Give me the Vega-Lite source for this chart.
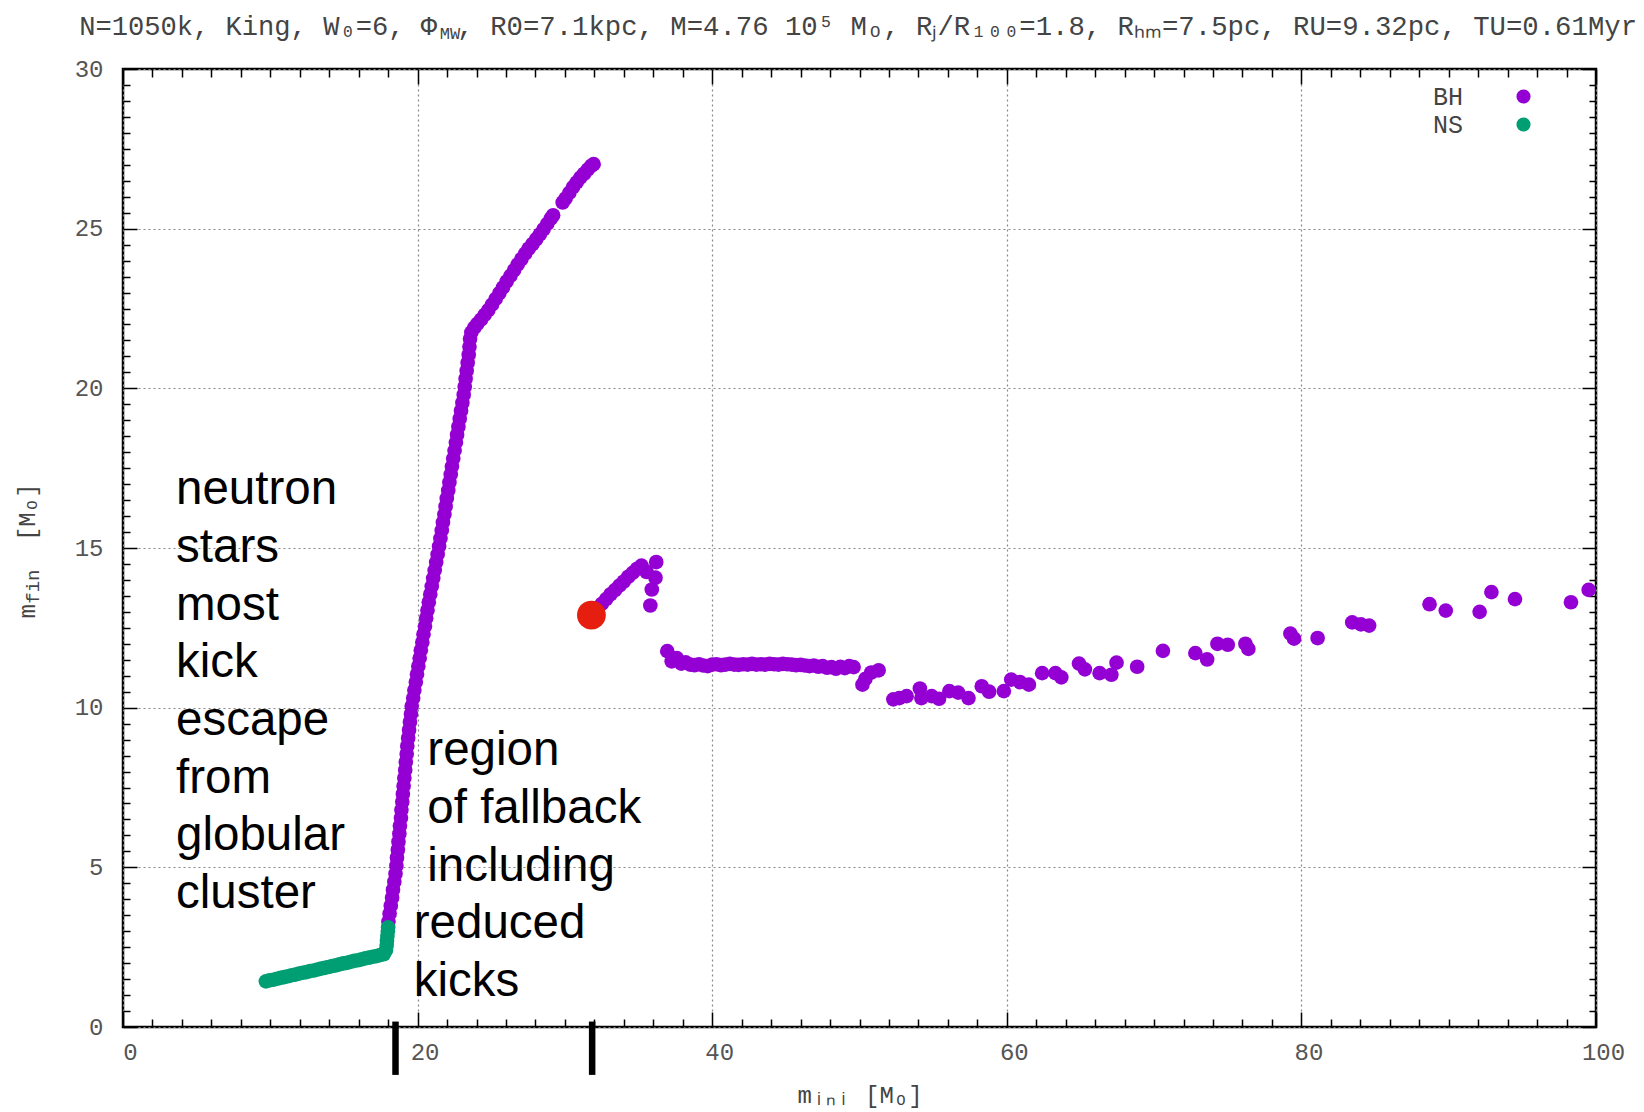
{
  "$schema": "https://vega.github.io/schema/vega-lite/v6.json",
  "width": 1473,
  "height": 958,
  "autosize": {"type": "none"},
  "padding": {"left": 123, "top": 69, "right": 48, "bottom": 85},
  "background": "white",
  "config": {
    "view": {"stroke": "#000", "strokeWidth": 2.5},
    "axis": {
      "labelFont": "Liberation Mono",
      "labelFontSize": 24,
      "labelColor": "#555",
      "titleFont": "Liberation Mono",
      "titleFontSize": 24,
      "titleFontWeight": "normal",
      "titleColor": "#444",
      "gridColor": "#888",
      "gridDash": [2, 3],
      "gridWidth": 1.2,
      "labelFlush": false,
      "labelOverlap": false,
      "domain": false,
      "tickColor": "#000",
      "tickWidth": 1.5
    }
  },
  "datasets": {
    "stars": [
      {"m_ini": 18.02, "m_fin": 3.3, "type": "BH"}, {"m_ini": 18.1, "m_fin": 3.55, "type": "BH"}, {"m_ini": 18.18, "m_fin": 3.8, "type": "BH"}, {"m_ini": 18.27, "m_fin": 4.05, "type": "BH"},
      {"m_ini": 18.33, "m_fin": 4.3, "type": "BH"}, {"m_ini": 18.42, "m_fin": 4.55, "type": "BH"}, {"m_ini": 18.5, "m_fin": 4.8, "type": "BH"}, {"m_ini": 18.56, "m_fin": 5.05, "type": "BH"},
      {"m_ini": 18.6, "m_fin": 5.3, "type": "BH"}, {"m_ini": 18.66, "m_fin": 5.55, "type": "BH"}, {"m_ini": 18.7, "m_fin": 5.8, "type": "BH"}, {"m_ini": 18.76, "m_fin": 6.05, "type": "BH"},
      {"m_ini": 18.8, "m_fin": 6.3, "type": "BH"}, {"m_ini": 18.87, "m_fin": 6.55, "type": "BH"}, {"m_ini": 18.9, "m_fin": 6.8, "type": "BH"}, {"m_ini": 18.96, "m_fin": 7.05, "type": "BH"},
      {"m_ini": 19.0, "m_fin": 7.3, "type": "BH"}, {"m_ini": 19.05, "m_fin": 7.55, "type": "BH"}, {"m_ini": 19.1, "m_fin": 7.8, "type": "BH"}, {"m_ini": 19.16, "m_fin": 8.05, "type": "BH"},
      {"m_ini": 19.2, "m_fin": 8.3, "type": "BH"}, {"m_ini": 19.26, "m_fin": 8.55, "type": "BH"}, {"m_ini": 19.3, "m_fin": 8.8, "type": "BH"}, {"m_ini": 19.36, "m_fin": 9.05, "type": "BH"},
      {"m_ini": 19.42, "m_fin": 9.3, "type": "BH"}, {"m_ini": 19.48, "m_fin": 9.55, "type": "BH"}, {"m_ini": 19.55, "m_fin": 9.8, "type": "BH"}, {"m_ini": 19.6, "m_fin": 10.05, "type": "BH"},
      {"m_ini": 19.7, "m_fin": 10.3, "type": "BH"}, {"m_ini": 19.78, "m_fin": 10.55, "type": "BH"}, {"m_ini": 19.88, "m_fin": 10.8, "type": "BH"}, {"m_ini": 19.96, "m_fin": 11.05, "type": "BH"},
      {"m_ini": 20.05, "m_fin": 11.3, "type": "BH"}, {"m_ini": 20.14, "m_fin": 11.55, "type": "BH"}, {"m_ini": 20.22, "m_fin": 11.8, "type": "BH"}, {"m_ini": 20.32, "m_fin": 12.05, "type": "BH"},
      {"m_ini": 20.4, "m_fin": 12.3, "type": "BH"}, {"m_ini": 20.5, "m_fin": 12.55, "type": "BH"}, {"m_ini": 20.58, "m_fin": 12.8, "type": "BH"}, {"m_ini": 20.67, "m_fin": 13.05, "type": "BH"},
      {"m_ini": 20.76, "m_fin": 13.3, "type": "BH"}, {"m_ini": 20.86, "m_fin": 13.55, "type": "BH"}, {"m_ini": 20.96, "m_fin": 13.8, "type": "BH"}, {"m_ini": 21.06, "m_fin": 14.05, "type": "BH"},
      {"m_ini": 21.16, "m_fin": 14.3, "type": "BH"}, {"m_ini": 21.26, "m_fin": 14.55, "type": "BH"}, {"m_ini": 21.36, "m_fin": 14.8, "type": "BH"}, {"m_ini": 21.46, "m_fin": 15.05, "type": "BH"},
      {"m_ini": 21.55, "m_fin": 15.3, "type": "BH"}, {"m_ini": 21.64, "m_fin": 15.55, "type": "BH"}, {"m_ini": 21.72, "m_fin": 15.8, "type": "BH"}, {"m_ini": 21.82, "m_fin": 16.05, "type": "BH"},
      {"m_ini": 21.9, "m_fin": 16.3, "type": "BH"}, {"m_ini": 21.98, "m_fin": 16.55, "type": "BH"}, {"m_ini": 22.08, "m_fin": 16.8, "type": "BH"}, {"m_ini": 22.16, "m_fin": 17.05, "type": "BH"},
      {"m_ini": 22.25, "m_fin": 17.3, "type": "BH"}, {"m_ini": 22.33, "m_fin": 17.55, "type": "BH"}, {"m_ini": 22.42, "m_fin": 17.8, "type": "BH"}, {"m_ini": 22.51, "m_fin": 18.05, "type": "BH"},
      {"m_ini": 22.6, "m_fin": 18.3, "type": "BH"}, {"m_ini": 22.68, "m_fin": 18.55, "type": "BH"}, {"m_ini": 22.77, "m_fin": 18.8, "type": "BH"}, {"m_ini": 22.86, "m_fin": 19.05, "type": "BH"},
      {"m_ini": 22.95, "m_fin": 19.3, "type": "BH"}, {"m_ini": 23.04, "m_fin": 19.55, "type": "BH"}, {"m_ini": 23.13, "m_fin": 19.8, "type": "BH"}, {"m_ini": 23.2, "m_fin": 20.05, "type": "BH"},
      {"m_ini": 23.26, "m_fin": 20.3, "type": "BH"}, {"m_ini": 23.33, "m_fin": 20.55, "type": "BH"}, {"m_ini": 23.4, "m_fin": 20.8, "type": "BH"}, {"m_ini": 23.47, "m_fin": 21.05, "type": "BH"},
      {"m_ini": 23.52, "m_fin": 21.3, "type": "BH"}, {"m_ini": 23.56, "m_fin": 21.55, "type": "BH"},
      {"m_ini": 23.65, "m_fin": 21.75, "type": "BH"}, {"m_ini": 23.85, "m_fin": 21.9, "type": "BH"}, {"m_ini": 24.05, "m_fin": 22.02, "type": "BH"}, {"m_ini": 24.3, "m_fin": 22.15, "type": "BH"},
      {"m_ini": 24.55, "m_fin": 22.3, "type": "BH"}, {"m_ini": 24.8, "m_fin": 22.45, "type": "BH"}, {"m_ini": 25.05, "m_fin": 22.62, "type": "BH"}, {"m_ini": 25.3, "m_fin": 22.8, "type": "BH"},
      {"m_ini": 25.55, "m_fin": 22.98, "type": "BH"}, {"m_ini": 25.8, "m_fin": 23.16, "type": "BH"}, {"m_ini": 26.05, "m_fin": 23.35, "type": "BH"}, {"m_ini": 26.3, "m_fin": 23.52, "type": "BH"},
      {"m_ini": 26.55, "m_fin": 23.7, "type": "BH"}, {"m_ini": 26.8, "m_fin": 23.88, "type": "BH"}, {"m_ini": 27.05, "m_fin": 24.05, "type": "BH"}, {"m_ini": 27.3, "m_fin": 24.22, "type": "BH"},
      {"m_ini": 27.55, "m_fin": 24.38, "type": "BH"}, {"m_ini": 27.8, "m_fin": 24.52, "type": "BH"}, {"m_ini": 28.05, "m_fin": 24.67, "type": "BH"}, {"m_ini": 28.3, "m_fin": 24.82, "type": "BH"},
      {"m_ini": 28.55, "m_fin": 24.98, "type": "BH"}, {"m_ini": 28.8, "m_fin": 25.15, "type": "BH"}, {"m_ini": 29.05, "m_fin": 25.32, "type": "BH"}, {"m_ini": 29.2, "m_fin": 25.42, "type": "BH"},
      {"m_ini": 29.85, "m_fin": 25.82, "type": "BH"}, {"m_ini": 30.05, "m_fin": 25.95, "type": "BH"}, {"m_ini": 30.3, "m_fin": 26.12, "type": "BH"}, {"m_ini": 30.55, "m_fin": 26.3, "type": "BH"},
      {"m_ini": 30.8, "m_fin": 26.45, "type": "BH"}, {"m_ini": 31.05, "m_fin": 26.6, "type": "BH"}, {"m_ini": 31.3, "m_fin": 26.72, "type": "BH"}, {"m_ini": 31.55, "m_fin": 26.85, "type": "BH"},
      {"m_ini": 31.8, "m_fin": 26.97, "type": "BH"}, {"m_ini": 31.95, "m_fin": 27.02, "type": "BH"},
      {"m_ini": 32.2, "m_fin": 13.1, "type": "BH"}, {"m_ini": 32.5, "m_fin": 13.25, "type": "BH"}, {"m_ini": 32.8, "m_fin": 13.4, "type": "BH"}, {"m_ini": 33.1, "m_fin": 13.55, "type": "BH"},
      {"m_ini": 33.4, "m_fin": 13.68, "type": "BH"}, {"m_ini": 33.7, "m_fin": 13.82, "type": "BH"}, {"m_ini": 34.0, "m_fin": 13.95, "type": "BH"}, {"m_ini": 34.3, "m_fin": 14.1, "type": "BH"},
      {"m_ini": 34.6, "m_fin": 14.22, "type": "BH"}, {"m_ini": 34.9, "m_fin": 14.35, "type": "BH"}, {"m_ini": 35.2, "m_fin": 14.45, "type": "BH"}, {"m_ini": 35.55, "m_fin": 14.25, "type": "BH"},
      {"m_ini": 35.9, "m_fin": 13.7, "type": "BH"}, {"m_ini": 35.8, "m_fin": 13.2, "type": "BH"}, {"m_ini": 36.15, "m_fin": 14.07, "type": "BH"}, {"m_ini": 36.2, "m_fin": 14.56, "type": "BH"},
      {"m_ini": 36.95, "m_fin": 11.77, "type": "BH"}, {"m_ini": 37.25, "m_fin": 11.45, "type": "BH"}, {"m_ini": 37.6, "m_fin": 11.55, "type": "BH"}, {"m_ini": 37.9, "m_fin": 11.38, "type": "BH"},
      {"m_ini": 38.2, "m_fin": 11.42, "type": "BH"}, {"m_ini": 38.5, "m_fin": 11.35, "type": "BH"}, {"m_ini": 38.8, "m_fin": 11.33, "type": "BH"}, {"m_ini": 39.1, "m_fin": 11.36, "type": "BH"},
      {"m_ini": 39.4, "m_fin": 11.32, "type": "BH"}, {"m_ini": 39.7, "m_fin": 11.3, "type": "BH"}, {"m_ini": 40.0, "m_fin": 11.35, "type": "BH"}, {"m_ini": 40.3, "m_fin": 11.36, "type": "BH"},
      {"m_ini": 40.6, "m_fin": 11.33, "type": "BH"}, {"m_ini": 40.9, "m_fin": 11.35, "type": "BH"}, {"m_ini": 41.2, "m_fin": 11.37, "type": "BH"}, {"m_ini": 41.5, "m_fin": 11.35, "type": "BH"},
      {"m_ini": 41.8, "m_fin": 11.34, "type": "BH"}, {"m_ini": 42.1, "m_fin": 11.36, "type": "BH"}, {"m_ini": 42.4, "m_fin": 11.35, "type": "BH"}, {"m_ini": 42.7, "m_fin": 11.37, "type": "BH"},
      {"m_ini": 43.0, "m_fin": 11.35, "type": "BH"}, {"m_ini": 43.3, "m_fin": 11.36, "type": "BH"}, {"m_ini": 43.6, "m_fin": 11.35, "type": "BH"}, {"m_ini": 43.9, "m_fin": 11.37, "type": "BH"},
      {"m_ini": 44.2, "m_fin": 11.36, "type": "BH"}, {"m_ini": 44.5, "m_fin": 11.35, "type": "BH"}, {"m_ini": 44.8, "m_fin": 11.37, "type": "BH"}, {"m_ini": 45.1, "m_fin": 11.36, "type": "BH"},
      {"m_ini": 45.4, "m_fin": 11.35, "type": "BH"}, {"m_ini": 45.7, "m_fin": 11.33, "type": "BH"}, {"m_ini": 46.0, "m_fin": 11.34, "type": "BH"}, {"m_ini": 46.3, "m_fin": 11.32, "type": "BH"},
      {"m_ini": 46.6, "m_fin": 11.3, "type": "BH"}, {"m_ini": 46.9, "m_fin": 11.32, "type": "BH"}, {"m_ini": 47.2, "m_fin": 11.28, "type": "BH"}, {"m_ini": 47.5, "m_fin": 11.3, "type": "BH"},
      {"m_ini": 47.8, "m_fin": 11.25, "type": "BH"}, {"m_ini": 48.1, "m_fin": 11.27, "type": "BH"}, {"m_ini": 48.4, "m_fin": 11.22, "type": "BH"}, {"m_ini": 48.7, "m_fin": 11.28, "type": "BH"},
      {"m_ini": 49.0, "m_fin": 11.24, "type": "BH"}, {"m_ini": 49.3, "m_fin": 11.3, "type": "BH"}, {"m_ini": 49.6, "m_fin": 11.27, "type": "BH"},
      {"m_ini": 50.2, "m_fin": 10.72, "type": "BH"}, {"m_ini": 50.4, "m_fin": 10.9, "type": "BH"}, {"m_ini": 50.8, "m_fin": 11.1, "type": "BH"}, {"m_ini": 51.3, "m_fin": 11.17, "type": "BH"},
      {"m_ini": 52.3, "m_fin": 10.26, "type": "BH"}, {"m_ini": 52.7, "m_fin": 10.3, "type": "BH"}, {"m_ini": 53.2, "m_fin": 10.36, "type": "BH"}, {"m_ini": 54.1, "m_fin": 10.6, "type": "BH"},
      {"m_ini": 54.2, "m_fin": 10.3, "type": "BH"}, {"m_ini": 54.9, "m_fin": 10.36, "type": "BH"}, {"m_ini": 55.4, "m_fin": 10.28, "type": "BH"}, {"m_ini": 56.1, "m_fin": 10.52, "type": "BH"},
      {"m_ini": 56.7, "m_fin": 10.47, "type": "BH"}, {"m_ini": 57.4, "m_fin": 10.3, "type": "BH"}, {"m_ini": 58.3, "m_fin": 10.67, "type": "BH"}, {"m_ini": 58.8, "m_fin": 10.5, "type": "BH"},
      {"m_ini": 59.8, "m_fin": 10.52, "type": "BH"}, {"m_ini": 60.3, "m_fin": 10.88, "type": "BH"}, {"m_ini": 60.9, "m_fin": 10.8, "type": "BH"}, {"m_ini": 61.5, "m_fin": 10.72, "type": "BH"},
      {"m_ini": 62.4, "m_fin": 11.08, "type": "BH"}, {"m_ini": 63.3, "m_fin": 11.08, "type": "BH"}, {"m_ini": 63.7, "m_fin": 10.95, "type": "BH"}, {"m_ini": 64.9, "m_fin": 11.38, "type": "BH"},
      {"m_ini": 65.3, "m_fin": 11.2, "type": "BH"}, {"m_ini": 66.3, "m_fin": 11.08, "type": "BH"}, {"m_ini": 67.1, "m_fin": 11.03, "type": "BH"}, {"m_ini": 67.45, "m_fin": 11.41, "type": "BH"},
      {"m_ini": 68.85, "m_fin": 11.28, "type": "BH"}, {"m_ini": 70.6, "m_fin": 11.78, "type": "BH"}, {"m_ini": 72.8, "m_fin": 11.71, "type": "BH"}, {"m_ini": 73.6, "m_fin": 11.51, "type": "BH"},
      {"m_ini": 74.3, "m_fin": 12.0, "type": "BH"}, {"m_ini": 75.0, "m_fin": 11.97, "type": "BH"}, {"m_ini": 76.2, "m_fin": 12.0, "type": "BH"}, {"m_ini": 76.4, "m_fin": 11.84, "type": "BH"},
      {"m_ini": 79.25, "m_fin": 12.32, "type": "BH"}, {"m_ini": 79.5, "m_fin": 12.16, "type": "BH"}, {"m_ini": 81.1, "m_fin": 12.18, "type": "BH"}, {"m_ini": 83.45, "m_fin": 12.67, "type": "BH"},
      {"m_ini": 84.04, "m_fin": 12.61, "type": "BH"}, {"m_ini": 84.6, "m_fin": 12.57, "type": "BH"}, {"m_ini": 88.7, "m_fin": 13.24, "type": "BH"}, {"m_ini": 89.8, "m_fin": 13.04, "type": "BH"},
      {"m_ini": 92.1, "m_fin": 13.0, "type": "BH"}, {"m_ini": 92.9, "m_fin": 13.62, "type": "BH"}, {"m_ini": 94.5, "m_fin": 13.4, "type": "BH"}, {"m_ini": 98.3, "m_fin": 13.3, "type": "BH"},
      {"m_ini": 99.5, "m_fin": 13.69, "type": "BH"},
      {"m_ini": 9.7, "m_fin": 1.43, "type": "NS"}, {"m_ini": 9.95, "m_fin": 1.46, "type": "NS"}, {"m_ini": 10.2, "m_fin": 1.48, "type": "NS"}, {"m_ini": 10.45, "m_fin": 1.51, "type": "NS"},
      {"m_ini": 10.7, "m_fin": 1.54, "type": "NS"}, {"m_ini": 10.95, "m_fin": 1.56, "type": "NS"}, {"m_ini": 11.2, "m_fin": 1.59, "type": "NS"}, {"m_ini": 11.45, "m_fin": 1.62, "type": "NS"},
      {"m_ini": 11.7, "m_fin": 1.64, "type": "NS"}, {"m_ini": 11.95, "m_fin": 1.67, "type": "NS"}, {"m_ini": 12.2, "m_fin": 1.7, "type": "NS"}, {"m_ini": 12.45, "m_fin": 1.72, "type": "NS"},
      {"m_ini": 12.7, "m_fin": 1.75, "type": "NS"}, {"m_ini": 12.95, "m_fin": 1.77, "type": "NS"}, {"m_ini": 13.2, "m_fin": 1.8, "type": "NS"}, {"m_ini": 13.45, "m_fin": 1.83, "type": "NS"},
      {"m_ini": 13.7, "m_fin": 1.85, "type": "NS"}, {"m_ini": 13.95, "m_fin": 1.88, "type": "NS"}, {"m_ini": 14.2, "m_fin": 1.91, "type": "NS"}, {"m_ini": 14.45, "m_fin": 1.93, "type": "NS"},
      {"m_ini": 14.7, "m_fin": 1.96, "type": "NS"}, {"m_ini": 14.95, "m_fin": 1.99, "type": "NS"}, {"m_ini": 15.2, "m_fin": 2.01, "type": "NS"}, {"m_ini": 15.45, "m_fin": 2.04, "type": "NS"},
      {"m_ini": 15.7, "m_fin": 2.07, "type": "NS"}, {"m_ini": 15.95, "m_fin": 2.09, "type": "NS"}, {"m_ini": 16.2, "m_fin": 2.12, "type": "NS"}, {"m_ini": 16.45, "m_fin": 2.15, "type": "NS"},
      {"m_ini": 16.7, "m_fin": 2.17, "type": "NS"}, {"m_ini": 16.95, "m_fin": 2.2, "type": "NS"}, {"m_ini": 17.2, "m_fin": 2.22, "type": "NS"}, {"m_ini": 17.45, "m_fin": 2.25, "type": "NS"},
      {"m_ini": 17.7, "m_fin": 2.28, "type": "NS"}, {"m_ini": 17.85, "m_fin": 2.4, "type": "NS"}, {"m_ini": 17.9, "m_fin": 2.55, "type": "NS"}, {"m_ini": 17.92, "m_fin": 2.7, "type": "NS"},
      {"m_ini": 17.95, "m_fin": 2.85, "type": "NS"}, {"m_ini": 17.98, "m_fin": 3.0, "type": "NS"}, {"m_ini": 18.0, "m_fin": 3.12, "type": "NS"}
    ],
    "marker": [{"m_ini": 31.8, "m_fin": 12.9}],
    "bars": [{"m_ini": 18.5}, {"m_ini": 31.85}]
  },
  "layer": [
    {
      "data": {"name": "stars"},
      "mark": {"type": "point", "filled": true, "opacity": 1, "size": 215, "strokeWidth": 0},
      "encoding": {
        "x": {
          "field": "m_ini", "type": "quantitative",
          "scale": {"domain": [0, 100], "nice": false, "zero": false},
          "axis": {"orient": "bottom", "values": [0, 20, 40, 60, 80, 100], "grid": true, "ticks": false, "labelPadding": 13, "labelOffset": 7, "title": "mᵢₙᵢ  [Mₒ]", "titlePadding": 19}
        },
        "y": {
          "field": "m_fin", "type": "quantitative",
          "scale": {"domain": [0, 30], "nice": false, "zero": false},
          "axis": {"orient": "left", "values": [0, 5, 10, 15, 20, 25, 30], "grid": true, "ticks": false, "labelPadding": 20, "title": null}
        },
        "color": {
          "field": "type", "type": "nominal",
          "scale": {"domain": ["BH", "NS"], "range": ["#9400D3", "#009E73"]},
          "legend": {
            "orient": "none", "legendX": 1388, "legendY": 15, "title": null,
            "labelAlign": "right", "labelOffset": -73, "symbolSize": 200, "symbolType": "circle",
            "symbolStrokeWidth": 0, "labelFont": "Liberation Mono", "labelFontSize": 25,
            "labelColor": "#444", "rowPadding": 2
          }
        }
      }
    },
    {
      "data": {"name": "marker"},
      "mark": {"type": "point", "opacity": 0},
      "encoding": {
        "x": {
          "field": "m_ini", "type": "quantitative",
          "scale": {"domain": [0, 100], "nice": false, "zero": false},
          "axis": {"orient": "bottom", "labels": false, "grid": false, "title": null,
            "values": [0,2,4,6,8,10,12,14,16,18,20,22,24,26,28,30,32,34,36,38,40,42,44,46,48,50,52,54,56,58,60,62,64,66,68,70,72,74,76,78,80,82,84,86,88,90,92,94,96,98,100],
            "tickSize": {"condition": {"test": "datum.value % 20 === 0", "value": -15}, "value": -8}}
        },
        "y": {
          "field": "m_fin", "type": "quantitative",
          "scale": {"domain": [0, 30], "nice": false, "zero": false},
          "axis": {"orient": "left", "labels": false, "grid": false, "title": null,
            "values": [0,0.5,1,1.5,2,2.5,3,3.5,4,4.5,5,5.5,6,6.5,7,7.5,8,8.5,9,9.5,10,10.5,11,11.5,12,12.5,13,13.5,14,14.5,15,15.5,16,16.5,17,17.5,18,18.5,19,19.5,20,20.5,21,21.5,22,22.5,23,23.5,24,24.5,25,25.5,26,26.5,27,27.5,28,28.5,29,29.5,30],
            "tickSize": {"condition": {"test": "datum.value % 5 === 0", "value": -14}, "value": -7}}
        }
      }
    },
    {
      "data": {"name": "marker"},
      "mark": {"type": "point", "opacity": 0},
      "encoding": {
        "x": {
          "field": "m_ini", "type": "quantitative",
          "scale": {"domain": [0, 100], "nice": false, "zero": false},
          "axis": {"orient": "top", "labels": false, "grid": false, "title": null,
            "values": [0,2,4,6,8,10,12,14,16,18,20,22,24,26,28,30,32,34,36,38,40,42,44,46,48,50,52,54,56,58,60,62,64,66,68,70,72,74,76,78,80,82,84,86,88,90,92,94,96,98,100],
            "tickSize": {"condition": {"test": "datum.value % 20 === 0", "value": -15}, "value": -8}}
        },
        "y": {
          "field": "m_fin", "type": "quantitative",
          "scale": {"domain": [0, 30], "nice": false, "zero": false},
          "axis": {"orient": "right", "labels": false, "grid": false, "title": null,
            "values": [0,0.5,1,1.5,2,2.5,3,3.5,4,4.5,5,5.5,6,6.5,7,7.5,8,8.5,9,9.5,10,10.5,11,11.5,12,12.5,13,13.5,14,14.5,15,15.5,16,16.5,17,17.5,18,18.5,19,19.5,20,20.5,21,21.5,22,22.5,23,23.5,24,24.5,25,25.5,26,26.5,27,27.5,28,28.5,29,29.5,30],
            "tickSize": {"condition": {"test": "datum.value % 5 === 0", "value": -14}, "value": -7}}
        }
      }
    },
    {
      "data": {"name": "marker"},
      "mark": {"type": "point", "filled": true, "opacity": 1, "size": 830, "color": "#E51E10", "strokeWidth": 0},
      "encoding": {
        "x": {"field": "m_ini", "type": "quantitative", "scale": {"domain": [0, 100], "nice": false, "zero": false}, "axis": null},
        "y": {"field": "m_fin", "type": "quantitative", "scale": {"domain": [0, 30], "nice": false, "zero": false}, "axis": null}
      }
    },
    {
      "data": {"name": "bars"},
      "mark": {"type": "rule", "color": "#000", "strokeWidth": 6.5},
      "encoding": {
        "x": {"field": "m_ini", "type": "quantitative", "scale": {"domain": [0, 100], "nice": false, "zero": false}, "axis": null},
        "y": {"datum": 0.17, "type": "quantitative", "scale": {"domain": [0, 30], "nice": false, "zero": false}, "axis": null},
        "y2": {"datum": -1.5}
      }
    },
    {
      "data": {"values": [{}]},
      "mark": {"type": "text", "text": ["neutron", "stars", "most", "kick", "escape", "from", "globular", "cluster"], "font": "Liberation Sans", "fontSize": 47.5, "lineHeight": 57.7, "align": "left", "baseline": "alphabetic", "color": "#000"},
      "encoding": {
        "x": {"datum": 3.6, "type": "quantitative", "axis": null},
        "y": {"datum": 16.37, "type": "quantitative", "axis": null}
      }
    },
    {
      "data": {"values": [{}]},
      "mark": {"type": "text", "text": ["region", "of fallback", "including"], "font": "Liberation Sans", "fontSize": 47.5, "lineHeight": 57.7, "align": "left", "baseline": "alphabetic", "color": "#000"},
      "encoding": {
        "x": {"datum": 20.66, "type": "quantitative", "axis": null},
        "y": {"datum": 8.2, "type": "quantitative", "axis": null}
      }
    },
    {
      "data": {"values": [{}]},
      "mark": {"type": "text", "text": ["reduced", "kicks"], "font": "Liberation Sans", "fontSize": 47.5, "lineHeight": 57.7, "align": "left", "baseline": "alphabetic", "color": "#000"},
      "encoding": {
        "x": {"datum": 19.74, "type": "quantitative", "axis": null},
        "y": {"datum": 2.78, "type": "quantitative", "axis": null}
      }
    },
    {
      "data": {"values": [{}]},
      "mark": {"type": "text", "text": "N=1050k, King, W₀=6, Φ", "font": "Liberation Mono", "fontSize": 27.1, "align": "left", "baseline": "alphabetic", "color": "#444"},
      "encoding": {
        "x": {"datum": -2.97, "type": "quantitative", "axis": null},
        "y": {"datum": 31.07, "type": "quantitative", "axis": null}
      }
    },
    {
      "data": {"values": [{}]},
      "mark": {"type": "text", "text": "MW", "font": "Liberation Mono", "fontSize": 17, "align": "left", "baseline": "alphabetic", "color": "#444"},
      "encoding": {
        "x": {"datum": 21.5, "type": "quantitative", "axis": null},
        "y": {"datum": 30.95, "type": "quantitative", "axis": null}
      }
    },
    {
      "data": {"values": [{}]},
      "mark": {"type": "text", "text": ", R0=7.1kpc, M=4.76 10⁵ Mₒ, Rⱼ/R₁₀₀=1.8, Rₕₘ=7.5pc, RU=9.32pc, TU=0.61Myr", "font": "Liberation Mono", "fontSize": 27.3, "align": "left", "baseline": "alphabetic", "color": "#444"},
      "encoding": {
        "x": {"datum": 22.7, "type": "quantitative", "axis": null},
        "y": {"datum": 31.07, "type": "quantitative", "axis": null}
      }
    },
    {
      "data": {"values": [{}]},
      "mark": {"type": "text", "text": "m", "font": "Liberation Mono", "fontSize": 24, "angle": 270, "align": "center", "baseline": "alphabetic", "color": "#444"},
      "encoding": {
        "x": {"datum": -6.0, "type": "quantitative", "axis": null},
        "y": {"datum": 13.02, "type": "quantitative", "axis": null}
      }
    },
    {
      "data": {"values": [{}]},
      "mark": {"type": "text", "text": "fin", "font": "Liberation Mono", "fontSize": 19, "angle": 270, "align": "center", "baseline": "alphabetic", "color": "#444"},
      "encoding": {
        "x": {"datum": -5.68, "type": "quantitative", "axis": null},
        "y": {"datum": 13.79, "type": "quantitative", "axis": null}
      }
    },
    {
      "data": {"values": [{}]},
      "mark": {"type": "text", "text": "[Mₒ]", "font": "Liberation Mono", "fontSize": 24, "angle": 270, "align": "center", "baseline": "alphabetic", "color": "#444"},
      "encoding": {
        "x": {"datum": -6.0, "type": "quantitative", "axis": null},
        "y": {"datum": 16.12, "type": "quantitative", "axis": null}
      }
    }
  ],
  "resolve": {"axis": {"x": "independent", "y": "independent"}}
}
